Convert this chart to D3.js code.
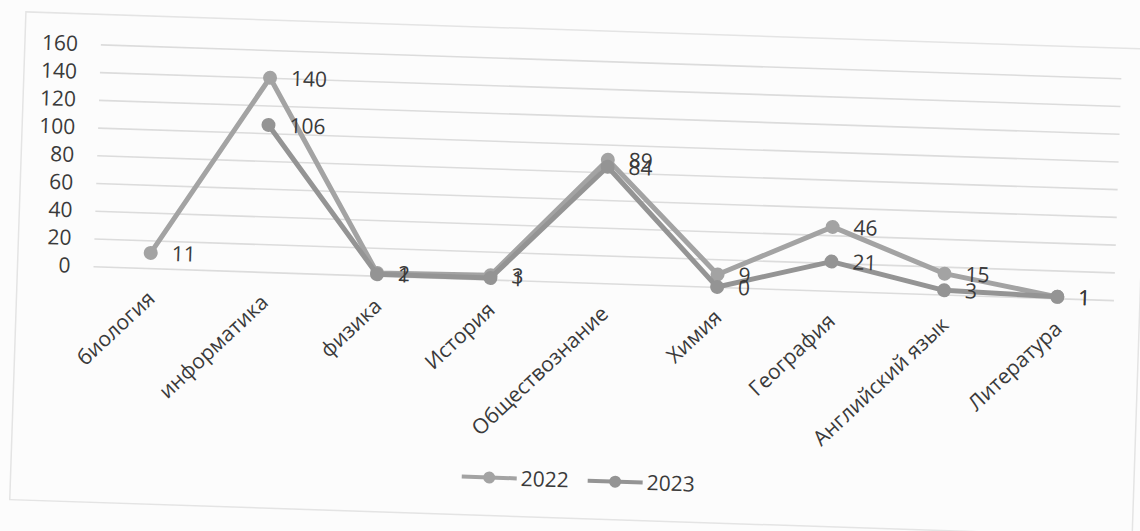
<!DOCTYPE html>
<html>
<head>
<meta charset="utf-8">
<script src="https://cdn.jsdelivr.net/npm/d3@7/dist/d3.min.js"></script>
<style>
  html, body { margin: 0; padding: 0; background: #fcfcfc; }
  svg { display: block; }
  text { font-family: "Open Sans", "Liberation Sans", sans-serif; fill: #3a3a3a; }
</style>
</head>
<body>
<svg id="chart" width="1140" height="531"></svg>
<script>
const categories = ["биология", "информатика", "физика", "История", "Обществознание", "Химия", "География", "Английский язык", "Литература"];
const seriesNames = ["2022", "2023"];
const values2022 = [11, 140, 2, 3, 89, 9, 46, 15, 1];
const values2023 = [null, 106, 1, 1, 84, 0, 21, 3, 1];
const yTicks = [0, 20, 40, 60, 80, 100, 120, 140, 160];

const series = [
  { name: seriesNames[0], values: values2022, color: "#a3a3a3" },
  { name: seriesNames[1], values: values2023, color: "#949494" }
];

const svg = d3.select("#chart");
svg.append("rect").attr("width", 1140).attr("height", 531).attr("fill", "#fcfcfc");

// scanned page is slightly tilted
const g = svg.append("g").attr("transform", "rotate(1.9, 600, 170)");

// faint chart border
g.append("rect").attr("x", 21).attr("y", 31).attr("width", 1123).attr("height", 488)
  .attr("fill", "none").attr("stroke", "#e4e4e4").attr("stroke-width", 1.5);

const x = d3.scaleBand().domain(categories).range([97, 1118]).paddingInner(0).paddingOuter(0);
const y = d3.scaleLinear().domain([0, 160]).range([283, 61]);
const cx = c => x(c) + x.bandwidth() / 2;

// gridlines
g.append("g")
  .attr("transform", "translate(97,0)")
  .call(d3.axisLeft(y).tickValues(yTicks).tickSize(-1021).tickFormat(""))
  .call(s => s.select(".domain").remove())
  .call(s => s.selectAll("line").attr("stroke", "#dcdcdc").attr("stroke-width", 1.6));

// y axis labels
g.append("g")
  .attr("transform", "translate(97,0)")
  .call(d3.axisLeft(y).tickValues(yTicks).tickSize(0).tickPadding(23))
  .call(s => s.select(".domain").remove())
  .call(s => s.selectAll("text").style("font-size", "21px").attr("fill", "#3a3a3a"));

// category labels
g.append("g").selectAll("text").data(categories).join("text")
  .attr("transform", d => `translate(${cx(d) + 7},${y(0) + 32}) rotate(-45)`)
  .attr("text-anchor", "end")
  .style("font-size", "21px")
  .text(d => d);

// lines
const line = d3.line()
  .defined(d => d.v !== null)
  .x(d => cx(d.c))
  .y(d => y(d.v));

series.forEach(s => {
  const pts = categories.map((c, i) => ({ c, v: s.values[i] }));
  g.append("path").datum(pts)
    .attr("d", line)
    .attr("fill", "none")
    .attr("stroke", s.color)
    .attr("stroke-width", 5)
    .attr("stroke-linejoin", "round");
  g.append("g").selectAll("circle").data(pts.filter(d => d.v !== null)).join("circle")
    .attr("cx", d => cx(d.c))
    .attr("cy", d => y(d.v))
    .attr("r", 7)
    .attr("fill", s.color);
});

// data labels
series.forEach(s => {
  const pts = categories.map((c, i) => ({ c, v: s.values[i] }));
  g.append("g").selectAll("text").data(pts.filter(d => d.v !== null)).join("text")
    .attr("x", d => cx(d.c) + 21)
    .attr("y", d => y(d.v))
    .attr("dy", "0.35em")
    .style("font-size", "21px")
    .text(d => d.v);
});

// legend
const legend = g.append("g").attr("transform", "translate(472,481)");
series.forEach((s, i) => {
  const lg = legend.append("g").attr("transform", `translate(${i * 126},0)`);
  lg.append("line").attr("x1", 0).attr("x2", 55).attr("y1", 0).attr("y2", 0)
    .attr("stroke", s.color).attr("stroke-width", 4);
  lg.append("circle").attr("cx", 27.5).attr("cy", 0).attr("r", 6).attr("fill", s.color);
  lg.append("text").attr("x", 59).attr("y", 0).attr("dy", "0.35em")
    .style("font-size", "21px").text(s.name);
});
</script>
</body>
</html>
